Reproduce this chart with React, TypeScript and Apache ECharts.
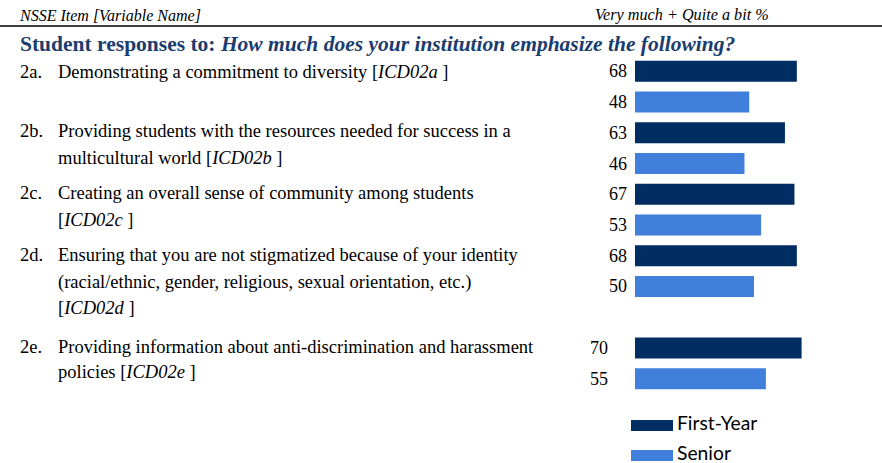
import React, { useEffect, useRef } from "react";
import * as echarts from "echarts";

const categories = ["2a-FY", "2a-SR", "2b-FY", "2b-SR", "2c-FY", "2c-SR", "2d-FY", "2d-SR", "gap", "2e-FY", "2e-SR"];
const firstYear: (number | null)[] = [68, null, 63, null, 67, null, 68, null, null, 70, null];
const senior: (number | null)[] = [null, 48, null, 46, null, 53, null, 50, null, null, 55];
const farLabelIndex = [9, 10];
const legendNames = ["First-Year", "Senior"];

const itemCodes = ["2a.", "2b.", "2c.", "2d.", "2e."];
const itemLines: string[][] = [
  ["Demonstrating a commitment to diversity [{i|ICD02a} ]"],
  ["Providing students with the resources needed for success in a", "multicultural world [{i|ICD02b} ]"],
  ["Creating an overall sense of community among students", "[{i|ICD02c} ]"],
  ["Ensuring that you are not stigmatized because of your identity", "(racial/ethnic, gender, religious, sexual orientation, etc.)", "[{i|ICD02d} ]"],
  ["Providing information about anti-discrimination and harassment", "policies [{i|ICD02e} ]"],
];
const itemLineY: number[][] = [[72], [131, 158], [193, 220], [255, 282, 308], [347, 372]];

const NAVY = "#002D62";
const BLUE = "#4080DC";
const SERIF = "Liberation Serif";
const SANS = "Lato";
const TITLE = "#1B3C6E";

function toData(vals: (number | null)[]) {
  return vals.map((v, i) =>
    v === null
      ? "-"
      : farLabelIndex.includes(i)
      ? { value: v, label: { distance: 27 } }
      : v
  );
}

export default function App() {
  const ref = useRef<HTMLDivElement>(null);
  useEffect(() => {
    const chart = echarts.init(ref.current!, null, { renderer: "svg" });
    const bodySize = 18.5;
    const graphics: any[] = [
      { type: "text", x: 20, y: 15, style: { text: "NSSE Item [Variable Name]", fontFamily: SERIF, fontStyle: "italic", fontSize: 16, fill: "#000", verticalAlign: "middle" } },
      { type: "text", x: 595, y: 15, style: { text: "Very much + Quite a bit %", fontFamily: SERIF, fontStyle: "italic", fontSize: 16.2, fill: "#000", verticalAlign: "middle" } },
      { type: "line", shape: { x1: 0, y1: 26, x2: 882, y2: 26 }, style: { stroke: "#000", lineWidth: 1.5 } },
      {
        type: "text",
        x: 20,
        y: 44,
        style: {
          text: "{b|Student responses to: }{bi|How much does your institution emphasize the following?}",
          verticalAlign: "middle",
          rich: {
            b: { fontFamily: SERIF, fontWeight: "bold", fontSize: 21.5, fill: TITLE },
            bi: { fontFamily: SERIF, fontWeight: "bold", fontStyle: "italic", fontSize: 21.5, fill: TITLE },
          },
        },
      },
    ];
    itemCodes.forEach((code, k) => {
      graphics.push({
        type: "text",
        x: 20,
        y: itemLineY[k][0],
        style: { text: code, fontFamily: SERIF, fontSize: bodySize, fill: "#000", verticalAlign: "middle" },
      });
      itemLines[k].forEach((line, j) => {
        graphics.push({
          type: "text",
          x: 58,
          y: itemLineY[k][j],
          style: {
            text: line,
            fontFamily: SERIF,
            fontSize: bodySize,
            fill: "#000",
            verticalAlign: "middle",
            rich: { i: { fontFamily: SERIF, fontStyle: "italic", fontSize: bodySize, fill: "#000" } },
          },
        });
      });
    });
    const legendColors = [NAVY, BLUE];
    const legendRectY = [420, 450];
    legendNames.forEach((name, k) => {
      graphics.push({ type: "rect", shape: { x: 631, y: legendRectY[k], width: 42, height: 11 }, style: { fill: legendColors[k] } });
      graphics.push({
        type: "text",
        x: 677,
        y: legendRectY[k] + 2,
        style: { text: name, fontFamily: SANS, fontSize: 19.3, fill: "#000", verticalAlign: "middle" },
      });
    });

    const labelStyle = {
      show: true,
      position: "left",
      distance: 8,
      color: "#000",
      fontFamily: SERIF,
      fontSize: 18,
    };

    chart.setOption({
      animation: false,
      grid: { left: 635, top: 56, width: 238, height: 338, containLabel: false },
      xAxis: { type: "value", min: 0, max: 100, show: false },
      yAxis: { type: "category", data: categories, inverse: true, show: false },
      graphic: graphics,
      series: [
        {
          name: legendNames[0],
          type: "bar",
          stack: "s",
          barWidth: 21,
          data: toData(firstYear),
          itemStyle: { color: NAVY },
          label: labelStyle,
        },
        {
          name: legendNames[1],
          type: "bar",
          stack: "s",
          barWidth: 21,
          data: toData(senior),
          itemStyle: { color: BLUE },
          label: labelStyle,
        },
      ],
    });
    return () => chart.dispose();
  }, []);
  return <div ref={ref} style={{ width: 882, height: 463, position: "absolute", left: 0, top: 0 }} />;
}
